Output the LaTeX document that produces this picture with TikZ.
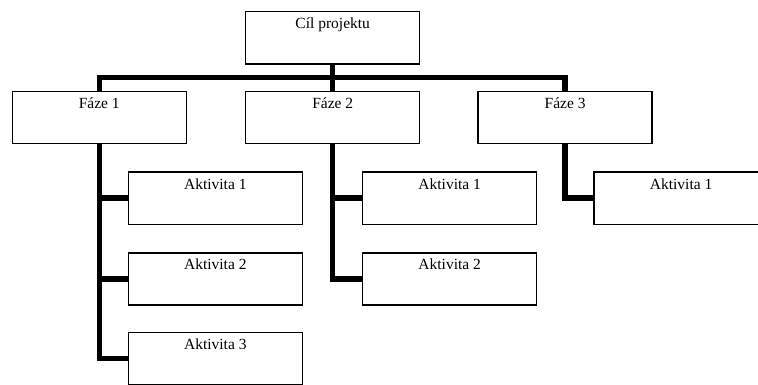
\documentclass[tikz,border=0pt]{standalone}
\usepackage{fontspec}
\setmainfont{Liberation Serif}
\usepackage{tikz}
\usetikzlibrary{positioning, calc}

\begin{document}
\begin{tikzpicture}[x=1pt, y=1pt, font=\fontsize{15.5}{18}\selectfont,
 box/.style={draw=black, line width=1.4pt, fill=white, minimum width=174pt, inner xsep=0pt,
  inner ysep=5pt, text height=12pt, text depth=30.3pt},
 conn/.style={line width=5.5pt, black}]
\useasboundingbox (0,0) rectangle (758,-385);

\node[box, anchor=north west](top) at (245,-11){Cíl projektu};
\node[box, below=26pt of top.south west, anchor=north west](f2){Fáze 2};
\node[box, left=58pt of f2.north west, anchor=north east](f1){Fáze 1};
\node[box, right=57pt of f2.north east, anchor=north west](f3){Fáze 3};

\node[box, below right=27pt and 116pt of f1.south west](a11){Aktivita 1};
\node[box, below=27pt of a11.south west, anchor=north west](a12){Aktivita 2};
\node[box, below=26pt of a12.south west, anchor=north west](a13){Aktivita 3};
\node[box, below right=27pt and 117pt of f2.south west](a21){Aktivita 1};
\node[box, below=27pt of a21.south west, anchor=north west](a22){Aktivita 2};
\node[box, below right=27pt and 116pt of f3.south west](a31){Aktivita 1};

\coordinate (bus) at ($(top.south)!0.5!(f2.north)$);

\draw[conn](top.south)--(f2.north);
\draw[conn](f1.north)|-(bus)-|(f3.north);
\draw[conn](f1.south)|-(a13.west);
\draw[conn](f2.south)|-(a22.west);
\draw[conn](f3.south)|-(a31.west);
\foreach \a/\b in {a11/f1,a12/f1,a21/f2}
  {\draw[conn](\a.west)--(\a.west -| \b.south);}

\end{tikzpicture}
\end{document}
